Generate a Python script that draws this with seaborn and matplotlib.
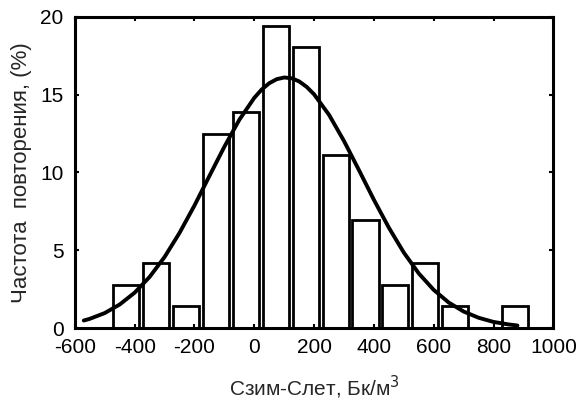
import numpy as np
import pandas as pd
import matplotlib
matplotlib.use("Agg")
import matplotlib.pyplot as plt
import seaborn as sns

# Histogram bins (centres, Bq/m3) and frequencies (%)
bin_centers = [-428, -328, -228, -128, -28, 72, 172, 272, 372, 472, 572, 672, 872]
frequencies = [2.78, 4.17, 1.39, 12.5, 13.89, 19.44, 18.06, 11.11, 6.94, 2.78, 4.17, 1.39, 1.39]

# Fitted normal curve
curve_x = [-570, -550, -500, -450, -400, -350, -300, -250, -200, -150, -100, -50, 0, 25, 50, 75, 100,
           125, 150, 175, 200, 250, 300, 350, 400, 450, 500, 550, 600, 650, 700, 750, 800, 850, 880]
curve_y = [0.48, 0.59, 0.96, 1.51, 2.27, 3.28, 4.56, 6.11, 7.87, 9.77, 11.65, 13.38, 14.79, 15.33, 15.73, 15.99, 16.10,
           16.05, 15.85, 15.50, 15.02, 13.70, 12.02, 10.15, 8.24, 6.45, 4.85, 3.51, 2.45, 1.64, 1.06, 0.66, 0.39, 0.23, 0.16]

x_ticks = [-600, -400, -200, 0, 200, 400, 600, 800, 1000]
y_ticks = [0, 5, 10, 15, 20]

sns.set_theme(style="ticks")
plt.rcParams['font.family'] = ['Liberation Sans', 'DejaVu Sans']

fig = plt.figure(figsize=(5.8, 4.0), dpi=100)
ax = fig.add_axes([0.129, 0.18, 0.825, 0.778])

bars = pd.DataFrame({"x": bin_centers, "y": frequencies})
sns.barplot(data=bars, x="x", y="y", native_scale=True, width=0.87,
            fill=False, color="black", linewidth=2.0, errorbar=None, ax=ax)
for p in ax.patches:
    p.set_edgecolor("black")
    p.set_linewidth(2.0)

curve = pd.DataFrame({"x": curve_x, "y": curve_y})
sns.lineplot(data=curve, x="x", y="y", color="black", linewidth=2.8, ax=ax)

ax.set_xlim(-600, 1000)
ax.set_ylim(0, 20)
ax.set_xticks(x_ticks)
ax.set_xticklabels([str(t) for t in x_ticks])
ax.set_yticks(y_ticks)
ax.set_yticklabels([str(t) for t in y_ticks])
ax.tick_params(axis="both", direction="in", length=3, width=1.5, labelsize=15,
               top=True, right=True, colors="black")
ax.tick_params(axis="x", pad=7)
ax.tick_params(axis="y", pad=8)
for s in ax.spines.values():
    s.set_visible(True)
    s.set_linewidth(2.2)
    s.set_color("black")

ax.set_xlabel("Сзим-Слет, Бк/м$^3$", fontsize=15, labelpad=12)
ax.set_ylabel("Частота  повторения, (%)", fontsize=16, labelpad=6)

fig.savefig("out.png", dpi=100, facecolor="white")
